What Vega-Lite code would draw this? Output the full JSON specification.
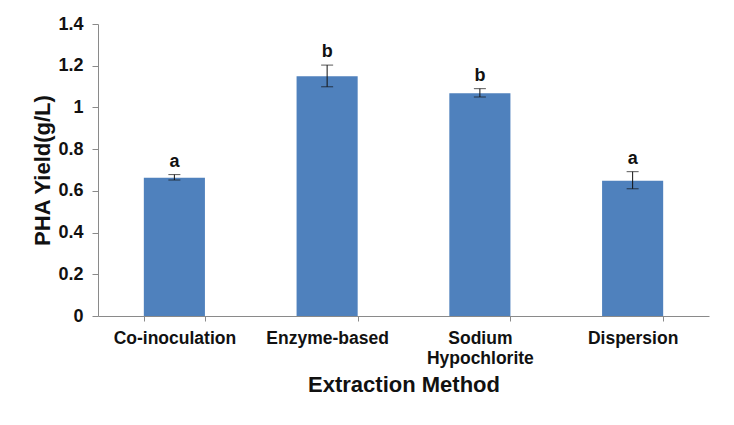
{
  "$schema": "https://vega.github.io/schema/vega-lite/v6.json",
  "autosize": {"type": "none"},
  "padding": {"left": 98, "top": 24, "right": 25, "bottom": 109},
  "width": 611,
  "height": 292,
  "background": "white",
  "config": {
    "view": {"stroke": null},
    "font": "Liberation Sans",
    "axis": {
      "domainColor": "#8a8a8a",
      "tickColor": "#8a8a8a",
      "labelColor": "#111111",
      "titleColor": "#111111",
      "labelFont": "Liberation Sans",
      "titleFont": "Liberation Sans",
      "labelFontWeight": "bold",
      "titleFontWeight": "bold",
      "grid": false
    }
  },
  "data": {
    "values": [
      {"method": "Co-inoculation", "yield": 0.663, "lo": 0.652, "hi": 0.678, "group": "a"},
      {"method": "Enzyme-based", "yield": 1.15, "lo": 1.099, "hi": 1.203, "group": "b"},
      {"method": "Sodium Hypochlorite", "yield": 1.068, "lo": 1.05, "hi": 1.09, "group": "b"},
      {"method": "Dispersion", "yield": 0.649, "lo": 0.61, "hi": 0.692, "group": "a"}
    ]
  },
  "encoding": {
    "x": {
      "field": "method",
      "type": "nominal",
      "sort": null,
      "scale": {"paddingInner": 0.6, "paddingOuter": 0.3},
      "axis": {
        "title": "Extraction Method",
        "labelAngle": 0,
        "labelFontSize": 17.5,
        "labelPadding": 8,
        "labelLineHeight": 20,
        "labelExpr": "split(datum.label, ' ')",
        "tickBand": "extent",
        "tickSize": 5,
        "titleFontSize": 22,
        "titlePadding": 8
      }
    }
  },
  "layer": [
    {
      "mark": {"type": "bar", "color": "#4F81BD"},
      "encoding": {
        "y": {
          "field": "yield",
          "type": "quantitative",
          "scale": {"domain": [0, 1.4], "nice": false},
          "axis": {
            "title": "PHA Yield(g/L)",
            "values": [0, 0.2, 0.4, 0.6, 0.8, 1, 1.2, 1.4],
            "format": ".1~f",
            "labelFontSize": 18,
            "labelPadding": 9,
            "tickSize": 6,
            "titleFontSize": 22,
            "titlePadding": 3
          }
        }
      }
    },
    {
      "mark": {"type": "rule", "color": "#111111", "strokeWidth": 1},
      "encoding": {
        "y": {"field": "lo", "type": "quantitative"},
        "y2": {"field": "hi"}
      }
    },
    {
      "mark": {"type": "tick", "color": "#111111", "thickness": 1, "size": 12},
      "encoding": {"y": {"field": "lo", "type": "quantitative"}}
    },
    {
      "mark": {"type": "tick", "color": "#111111", "thickness": 1, "size": 12},
      "encoding": {"y": {"field": "hi", "type": "quantitative"}}
    },
    {
      "mark": {"type": "text", "fontSize": 18, "fontWeight": "bold", "baseline": "bottom", "dy": -4, "color": "#111111"},
      "encoding": {
        "y": {"field": "hi", "type": "quantitative"},
        "text": {"field": "group"}
      }
    }
  ]
}
